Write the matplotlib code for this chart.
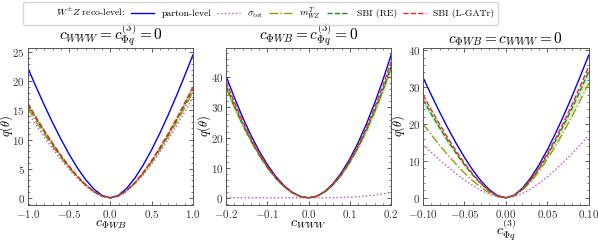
import numpy as np
import matplotlib
matplotlib.use("Agg")
import matplotlib.pyplot as plt
from matplotlib.lines import Line2D
from matplotlib.ticker import AutoMinorLocator

plt.rcParams['font.family'] = 'serif'
plt.rcParams['font.serif'] = ['cmr10']
plt.rcParams['mathtext.fontset'] = 'cm'
plt.rcParams['axes.formatter.use_mathtext'] = True
plt.rcParams['axes.unicode_minus'] = True

# ---- data ----
x1 = np.round(np.linspace(-1.0, 1.0, 21), 3)
x2 = np.round(np.linspace(-0.2, 0.2, 21), 3)
x3 = np.round(np.linspace(-0.1, 0.1, 21), 3)

# panel 1: c_PhiWB scan
p1_parton = [22.29, 19.03, 15.89, 12.91, 10.10, 7.49, 5.15, 3.13, 1.51, 0.41, 0.0,
             0.45, 1.66, 3.43, 5.66, 8.23, 11.09, 14.18, 17.46, 20.91, 24.49]
p1_sigma = [14.58, 12.45, 10.40, 8.44, 6.60, 4.90, 3.37, 2.05, 0.99, 0.27, 0.0,
            0.32, 1.17, 2.41, 3.98, 5.79, 7.80, 9.97, 12.28, 14.70, 17.22]
p1_mt = [15.32, 13.08, 10.92, 8.87, 6.94, 5.15, 3.54, 2.15, 1.04, 0.28, 0.0,
         0.33, 1.23, 2.54, 4.18, 6.08, 8.20, 10.48, 12.90, 15.45, 18.10]
p1_re = [15.90, 13.58, 11.34, 9.21, 7.20, 5.34, 3.67, 2.23, 1.08, 0.29, 0.0,
         0.34, 1.27, 2.62, 4.32, 6.28, 8.46, 10.82, 13.32, 15.95, 18.68]
p1_gatr = [16.19, 13.83, 11.55, 9.38, 7.33, 5.44, 3.74, 2.27, 1.10, 0.30, 0.0,
           0.35, 1.29, 2.67, 4.40, 6.39, 8.62, 11.01, 13.56, 16.24, 19.02]

# panel 2: c_WWW scan
p2_parton = [40.50, 33.36, 26.81, 20.89, 15.62, 11.05, 7.20, 4.13, 1.87, 0.48, 0.0,
             0.56, 2.19, 4.83, 8.43, 12.93, 18.29, 24.46, 31.39, 39.06, 47.41]
p2_sigma = [0.05, 0.05, 0.04, 0.04, 0.03, 0.03, 0.02, 0.02, 0.01, 0.0, 0.0,
            0.0, 0.02, 0.06, 0.12, 0.22, 0.38, 0.60, 0.90, 1.30, 1.85]
p2_mt = [36.58, 30.13, 24.22, 18.87, 14.11, 9.98, 6.50, 3.73, 1.69, 0.43, 0.0,
         0.51, 1.99, 4.38, 7.64, 11.73, 16.58, 22.18, 28.47, 35.42, 43.00]
p2_re = [37.17, 30.61, 24.61, 19.17, 14.33, 10.14, 6.61, 3.79, 1.72, 0.44, 0.0,
         0.51, 2.01, 4.44, 7.75, 11.89, 16.81, 22.48, 28.85, 35.90, 43.58]
p2_gatr = [38.58, 31.78, 25.54, 19.90, 14.88, 10.52, 6.86, 3.93, 1.78, 0.45, 0.0,
           0.53, 2.09, 4.60, 8.03, 12.32, 17.42, 23.30, 29.90, 37.20, 45.17]

# panel 3: c_Phiq^(3) scan
p3_parton = [32.60, 27.83, 23.24, 18.87, 14.76, 10.95, 7.53, 4.57, 2.21, 0.60, 0.0,
             0.71, 2.63, 5.43, 8.94, 13.00, 17.53, 22.41, 27.59, 33.05, 38.70]
p3_sigma = [14.40, 12.30, 10.27, 8.34, 6.52, 4.84, 3.33, 2.02, 0.98, 0.27, 0.0,
            0.31, 1.15, 2.37, 3.91, 5.68, 7.65, 9.79, 12.05, 14.43, 16.90]
p3_mt = [20.00, 17.08, 14.26, 11.58, 9.06, 6.72, 4.62, 2.80, 1.36, 0.37, 0.0,
         0.57, 2.11, 4.36, 7.19, 10.45, 14.08, 18.01, 22.18, 26.56, 31.10]
p3_re = [26.60, 22.71, 18.97, 15.40, 12.05, 8.94, 6.15, 3.73, 1.80, 0.49, 0.0,
         0.63, 2.32, 4.80, 7.90, 11.49, 15.49, 19.80, 24.38, 29.20, 34.20]
p3_gatr = [27.90, 23.82, 19.89, 16.15, 12.64, 9.38, 6.45, 3.91, 1.89, 0.51, 0.0,
           0.66, 2.42, 4.99, 8.22, 11.96, 16.12, 20.61, 25.38, 30.40, 35.60]

# relative width of the SBI (RE) band per panel
re_band = [0.03, 0.05, 0.05]

titles = [r'$c_{WWW} = c_{\Phi q}^{(3)} = 0$',
          r'$c_{\Phi WB} = c_{\Phi q}^{(3)} = 0$',
          r'$c_{\Phi WB} = c_{WWW} = 0$']
xlabels = [r'$c_{\Phi WB}$', r'$c_{WWW}$', r'$c_{\Phi q}^{(3)}$']
xlims = [(-1.0, 1.0), (-0.2, 0.2), (-0.1, 0.1)]
xticks = [[-1.0, -0.5, 0.0, 0.5, 1.0], [-0.2, -0.1, 0.0, 0.1, 0.2],
          [-0.10, -0.05, 0.0, 0.05, 0.10]]
yticks = [[0, 5, 10, 15, 20, 25], [0, 10, 20, 30, 40], [0, 10, 20, 30, 40]]
ylabel_x = [-0.075, -0.08, -0.1]

panels = [
    (x1, p1_parton, p1_sigma, p1_mt, p1_re, p1_gatr),
    (x2, p2_parton, p2_sigma, p2_mt, p2_re, p2_gatr),
    (x3, p3_parton, p3_sigma, p3_mt, p3_re, p3_gatr),
]

fig = plt.figure(figsize=(5.98, 2.42), dpi=100)
rects = [[0.0465, 0.153, 0.276, 0.649],
         [0.378, 0.153, 0.276, 0.649],
         [0.7075, 0.153, 0.277, 0.649]]

c_parton = '#0000ff'
c_sigma = '#c050c0'
c_mt = '#9a9a00'
c_re = '#1a8c1a'
c_gatr = '#ff2020'

for i, (x, parton, sigma, mt, re, gatr) in enumerate(panels):
    ax = fig.add_axes(rects[i])
    re = np.array(re)
    ax.fill_between(x, re * (1 - re_band[i]), re * (1 + re_band[i]),
                    color='#7fd07f', alpha=0.35, lw=0)
    ax.plot(x, parton, color=c_parton, lw=1.0, ls='-')
    ax.plot(x, sigma, color=c_sigma, lw=1.0, ls=':')
    ax.plot(x, mt, color=c_mt, lw=1.0, ls='-.')
    ax.plot(x, re, color=c_re, lw=1.0, ls='--')
    ax.plot(x, gatr, color=c_gatr, lw=1.0, ls='--')
    ax.set_xlim(*xlims[i])
    ax.set_xticks(xticks[i])
    ax.set_yticks(yticks[i])
    ax.xaxis.set_minor_locator(AutoMinorLocator(5))
    ax.yaxis.set_minor_locator(AutoMinorLocator(5))
    ax.tick_params(which='both', direction='in', top=True, right=True,
                   labelsize=8, colors='#444444', labelcolor='#333333', pad=2)
    ax.tick_params(which='major', length=3, width=0.6)
    ax.tick_params(which='minor', length=1.5, width=0.5)
    for s in ax.spines.values():
        s.set_color('#555555')
        s.set_linewidth(0.7)
    ax.set_title(titles[i], fontsize=11, pad=1)
    ax.set_xlabel(xlabels[i], fontsize=10, labelpad=-1)
    ax.set_ylabel(r'$q(\theta)$', fontsize=9)
    ax.yaxis.set_label_coords(ylabel_x[i], 0.5)

handles = [Line2D([], [], color='none'),
           Line2D([], [], color=c_parton, lw=1.0, ls='-'),
           Line2D([], [], color=c_sigma, lw=1.0, ls=':'),
           Line2D([], [], color=c_mt, lw=1.0, ls='-.'),
           Line2D([], [], color=c_re, lw=1.0, ls='--'),
           Line2D([], [], color=c_gatr, lw=1.0, ls='--')]
labels = [r'$W^{\pm}Z$ reco-level:', 'parton-level', r'$\sigma_{\mathrm{tot}}$',
          r'$m_{WZ}^{T}$', 'SBI (RE)', 'SBI (L-GATr)']
fig.legend(handles, labels, loc='upper left', bbox_to_anchor=(0.036, 0.995),
           ncol=6, fontsize=7, frameon=True, fancybox=True, edgecolor='#cccccc',
           handlelength=2.3, columnspacing=0.6, handletextpad=0.8,
           borderpad=0.35, borderaxespad=0.1)

fig.savefig('out.png', dpi=100)
